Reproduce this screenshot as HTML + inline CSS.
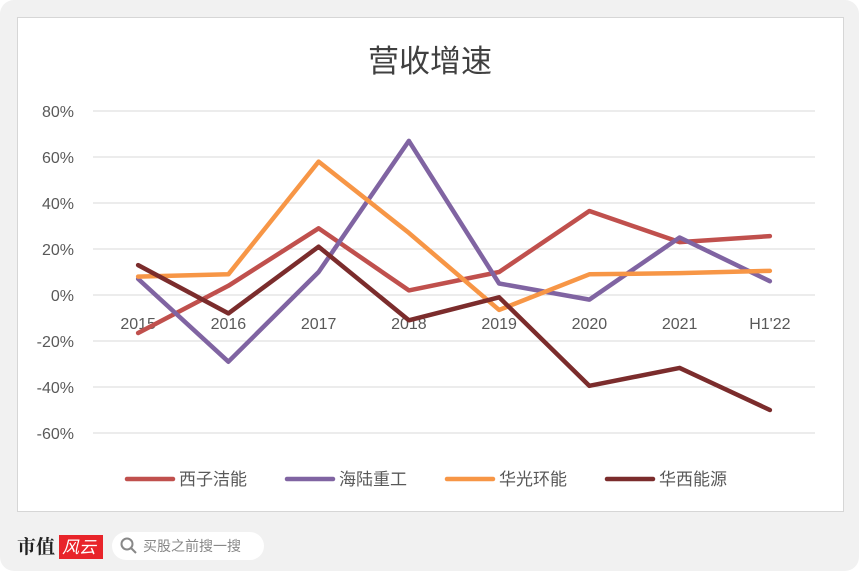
<!DOCTYPE html>
<html><head><meta charset="utf-8"><style>
body{margin:0;width:861px;height:573px;background:#fff;overflow:hidden;font-family:"Liberation Sans","Noto Sans CJK SC",sans-serif;}
#panel{position:absolute;left:0;top:0;width:859px;height:571px;background:#f1f1f1;border-radius:14px;}
#card{position:absolute;left:17px;top:17px;width:825px;height:493px;background:#fff;border:1px solid #d6d6d6;}
</style></head><body>
<div id="panel"></div>
<div id="card"></div>
<svg id="chart" width="861" height="573" style="position:absolute;left:0;top:0">
<text x="430" y="72" text-anchor="middle" font-size="31" fill="#404040" font-family="Liberation Sans, Noto Sans CJK SC, sans-serif">营收增速</text>
<g id="grid"></g><g id="series"></g><g id="legend"></g>
<g>
<text x="17" y="553" font-size="19" font-weight="bold" fill="#222" font-family="Noto Serif CJK SC, serif">市值</text>
<rect x="59" y="535" width="44" height="24" fill="#e8242a"/>
<text x="62" y="553" font-size="17" fill="#fff" font-style="italic" font-family="Noto Sans CJK SC, sans-serif">风云</text>
</g>
<g>
<rect x="112" y="532" width="152" height="28" rx="14" fill="#fff"/>
<circle cx="127" cy="544" r="5.5" fill="none" stroke="#888" stroke-width="2"/>
<line x1="131" y1="548" x2="136" y2="553" stroke="#888" stroke-width="2"/>
<text x="143" y="551" font-size="14" fill="#888" font-family="Noto Sans CJK SC, sans-serif">买股之前搜一搜</text>
</g>
</svg>
<script>
const categories=["2015","2016","2017","2018","2019","2020","2021","H1'22"];
const yTicks=[80,60,40,20,0,-20,-40,-60];
const seriesNames=["西子洁能","海陆重工","华光环能","华西能源"];
const xizi=[-16.5,4,29,2,10,36.5,23,25.6];
const hailu=[7,-29,10,67,5,-2,25,6];
const huaguang=[8,9,58,27,-6.5,9,9.5,10.5];
const huaxi=[13,-8,21,-11,-1,-39.5,-31.7,-50];
const colors=["#C0504D","#8064A2","#F79646","#7B2C2C"];
const allSeries=[xizi,hailu,huaguang,huaxi];
const NS="http://www.w3.org/2000/svg";
const x0=93,x1=815,y0=295,pxPer=2.3;
const xs=i=>x0+(x1-x0)/categories.length*(i+0.5);
const ys=v=>y0-v*pxPer;
function mk(t,a,p){const e=document.createElementNS(NS,t);for(const k in a)e.setAttribute(k,a[k]);p.appendChild(e);return e;}
const grid=document.getElementById('grid');
yTicks.forEach(v=>{
 const l=mk('line',{x1:x0,x2:x1,y1:ys(v),y2:ys(v),stroke:'#d9d9d9','stroke-width':1},grid);
 
 
 const t=mk('text',{x:74,y:ys(v)+6,'text-anchor':'end','font-size':16,fill:'#595959'},grid);
 t.textContent=v+'%';
 
 
});
categories.forEach((c,i)=>{
 const t=mk('text',{x:xs(i),y:ys(0)+34,'text-anchor':'middle','font-size':16,fill:'#595959'},grid);
 t.textContent=c;
 
 
});
const sg=document.getElementById('series');
allSeries.forEach((s,k)=>{
 const p=mk('polyline',{points:s.map((v,i)=>xs(i)+','+ys(v)).join(' '),fill:'none',stroke:colors[k],'stroke-width':4.5,'stroke-linejoin':'round','stroke-linecap':'round'},sg);
 
 
});
const lg=document.getElementById('legend');
const lx=[127,287,447,607];
seriesNames.forEach((n,k)=>{
 const g=mk('g',{},lg);
 
 
 mk('line',{x1:lx[k],x2:lx[k]+46,y1:479,y2:479,stroke:colors[k],'stroke-width':4.5,'stroke-linecap':'round'},g);
 const t=mk('text',{x:lx[k]+52,y:485,'font-size':17,fill:'#595959'},g);
 t.textContent=n;
});
</script>
</body></html>
